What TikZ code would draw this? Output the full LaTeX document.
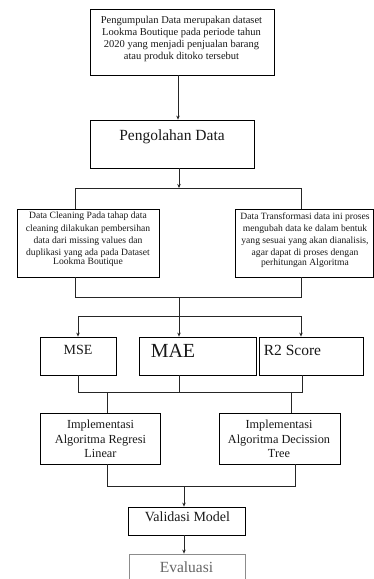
\documentclass[tikz,border=0pt]{standalone}
\usepackage{fontspec}
\setmainfont{Liberation Serif}
\usetikzlibrary{arrows.meta}
\begin{document}
\begin{tikzpicture}[x=1pt,y=-1pt,
  box/.style={draw, line width=0.8pt, inner sep=0pt},
  conn/.style={line width=0.7pt, draw=black!85},
  arr/.style={conn, -{Stealth[length=4pt,width=3.5pt]}},
  txt/.style={align=center, inner sep=0pt, text=black!90}]
\clip (0,0) rectangle (374,579);
\fill[white] (0,0) rectangle (374,579);
% boxes
\node[box, minimum width=184pt, minimum height=66pt] (b1) at (182,42) {};
\node[box, minimum width=164pt, minimum height=48pt] (b2) at (172,144) {};
\node[box, minimum width=142pt, minimum height=68pt] (b3L) at (88,243) {};
\node[box, minimum width=138.5pt, minimum height=68pt] (b3R) at (304.25,243) {};
\node[box, minimum width=76pt, minimum height=38pt] (mse) at (78,356) {};
\node[box, minimum width=117pt, minimum height=38pt] (mae) at (197.5,356) {};
\node[box, minimum width=104pt, minimum height=38pt] (r2) at (311,356) {};
\node[box, minimum width=120pt, minimum height=51pt] (imL) at (100,438.5) {};
\node[box, minimum width=121pt, minimum height=51pt] (imR) at (279.5,438.5) {};
\node[box, minimum width=117pt, minimum height=28pt] (val) at (186.5,521) {};
\node[box, draw=black!45, minimum width=116pt, minimum height=28pt] (eva) at (187,568) {};
% texts
\node[txt, font=\fontsize{10.5}{12.3}\selectfont] (t1) at (181.5,39) {Pengumpulan Data merupakan dataset\\Lookma Boutique pada periode tahun\\2020 yang menjadi penjualan barang\\atau produk ditoko tersebut};
\node[txt, font=\fontsize{15.5}{18}\selectfont] (t2) at (172,137) {Pengolahan Data};
\node[txt, font=\fontsize{9.6}{12.2}\selectfont] (t3) at (88,239.5) {Data Cleaning Pada tahap data\\cleaning dilakukan pembersihan\\data dari missing values dan\\duplikasi yang ada pada Dataset\\[-3pt]Lookma Boutique};
\node[txt, font=\fontsize{9.6}{12.2}\selectfont] (t4) at (305,240) {Data Transformasi data ini proses\\mengubah data ke dalam bentuk\\yang sesuai yang akan dianalisis,\\agar dapat di proses dengan\\[-2.5pt]perhitungan Algoritma};
\node[txt, font=\fontsize{14}{16}\selectfont] (t5) at (78,350) {MSE};
\node[txt, font=\fontsize{20}{22}\selectfont] (t6) at (173,351) {MAE};
\node[txt, font=\fontsize{15.5}{18}\selectfont] (t7) at (292.5,350) {R2 Score};
\node[txt, font=\fontsize{12.3}{14.5}\selectfont] (t8) at (100.5,439) {Implementasi\\Algoritma Regresi\\Linear};
\node[txt, font=\fontsize{12.3}{14.5}\selectfont] (t9) at (279,439) {Implementasi\\Algoritma Decission\\Tree};
\node[txt, font=\fontsize{14}{16}\selectfont] (t10) at (187.5,517) {Validasi Model};
\node[txt, text=black!60, font=\fontsize{15.5}{18}\selectfont] (t11) at (186.5,567) {Evaluasi};
% connectors
\coordinate (a0) at (178,0);
\draw[arr] (b1.south -| a0) -- (a0 |- b2.north);
\coordinate (s0) at (179,188); \coordinate (s1) at (75,188); \coordinate (s2) at (301,188);
\draw[arr] (b2.south -| s0) -- (s0);
\draw[conn] (s1 |- b3L.north) -- (s1) -- (s2) -- (s2 |- b3R.north);
\coordinate (u0) at (179,297); \coordinate (u1) at (75,297); \coordinate (u2) at (301,297);
\draw[conn] (u1 |- b3L.south) -- (u1) -- (u2) -- (u2 |- b3R.south);
\coordinate (v0) at (179,316); \coordinate (v1) at (78,316); \coordinate (v2) at (301,316);
\draw[conn] (u0) -- (v0);
\draw[conn] (v1) -- (v2);
\draw[arr] (v1) -- (v1 |- mse.north);
\draw[arr] (v0) -- (v0 |- mae.north);
\draw[arr] (v2) -- (v2 |- r2.north);
\coordinate (w0) at (179,392); \coordinate (w1) at (78,392); \coordinate (w2) at (302,392);
\draw[conn] (w1 |- mse.south) -- (w1) -- (w2) -- (w2 |- r2.south);
\draw[conn] (w0 |- mae.south) -- (w0);
\coordinate (x1) at (107,392); \coordinate (x2) at (291,392);
\draw[conn] (x1) -- (x1 |- imL.north);
\draw[conn] (x2) -- (x2 |- imR.north);
\coordinate (y0) at (184,486); \coordinate (y1) at (107,486); \coordinate (y2) at (295,486);
\draw[conn] (y1 |- imL.south) -- (y1) -- (y2) -- (y2 |- imR.south);
\draw[arr] (y0) -- (y0 |- val.north);
\draw[arr] (val.south -| y0) -- (y0 |- eva.north);
\end{tikzpicture}
\end{document}
